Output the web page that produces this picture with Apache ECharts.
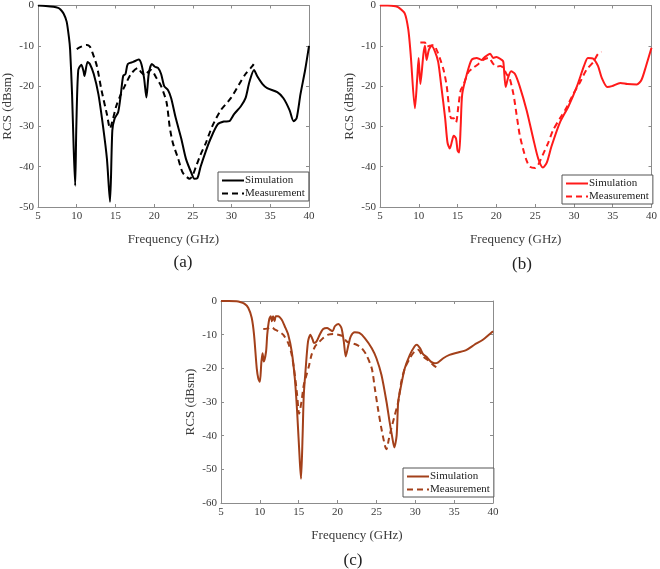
<!DOCTYPE html>
<html>
<head>
<meta charset="utf-8">
<script src="https://cdn.jsdelivr.net/npm/echarts@6/dist/echarts.min.js"></script>
<style>html,body{margin:0;padding:0;background:#fff}#c{width:660px;height:569px}</style>
</head>
<body>
<div id="c"></div>
<script>
// ---- Data (frequency GHz, RCS dBsm) ----
const xTicks = [5, 10, 15, 20, 25, 30, 35, 40];
const panelLabels = ['(a)', '(b)', '(c)'];
const legendNames = ['Simulation', 'Measurement'];

const simA = [[5,0],[6,-0.1],[7,-0.3],[7.6,-0.6],[7.9,-1],[8.3,-2],[8.7,-4],[9.0,-8],[9.15,-11],[9.4,-22],[9.6,-35],[9.8,-44.7],[9.95,-30],[10.2,-16],[10.6,-14.7],[10.9,-16.5],[11.0,-17.5],[11.4,-14],[11.7,-14.5],[12.2,-17],[12.8,-22],[13.4,-30],[13.9,-38],[14.3,-48.7],[14.6,-31],[14.9,-28],[15.35,-26.5],[15.7,-22],[16.0,-17.5],[16.3,-17],[16.6,-14.5],[17.3,-14],[18.0,-13.4],[18.35,-14.5],[18.7,-18],[19.0,-22.8],[19.3,-17],[19.7,-14.5],[20.1,-15.2],[20.5,-15.5],[20.9,-17],[21.3,-20],[21.8,-21],[22.2,-23],[22.8,-28],[23.5,-33],[24.1,-38],[24.8,-41.5],[25.2,-43],[25.6,-42.8],[26.0,-40],[26.7,-36],[27.3,-33],[28.2,-29.5],[29.0,-28.8],[29.7,-28.7],[30.3,-27],[31.2,-25],[31.8,-23],[32.3,-19],[32.9,-16],[33.3,-17.5],[34.0,-19.5],[34.6,-20.5],[35.9,-21.5],[36.7,-23],[37.5,-26],[38.0,-28.7],[38.4,-28],[38.9,-22],[39.5,-16],[40,-10]];
const meaA = [[10.0,-10.8],[10.6,-10.2],[11.3,-9.8],[11.7,-10.2],[12.0,-11.5],[12.6,-15],[13.2,-21],[13.9,-27],[14.3,-30.5],[14.7,-28],[15.1,-25],[15.6,-22.5],[16.2,-20],[17.0,-17],[17.9,-15.5],[18.3,-16.5],[18.8,-17.3],[19.2,-16.5],[19.6,-16],[20.3,-18],[20.9,-20],[21.6,-24],[22.0,-30],[22.4,-34],[23.1,-38],[23.7,-41.5],[24.6,-43],[25.0,-42],[25.4,-40],[26.0,-37],[26.7,-34],[27.5,-30],[28.6,-26],[29.9,-23],[31.0,-19.5],[31.8,-17],[32.7,-15],[33.1,-13.8]];

const simB = [[5,0],[6,0],[7,-0.2],[7.4,-0.5],[8.2,-2],[8.65,-6],[8.95,-12],[9.5,-25.5],[9.8,-18],[9.98,-13],[10.2,-19.5],[10.6,-12],[10.8,-10],[11.0,-13.5],[11.3,-11],[11.65,-10],[12.1,-11.5],[12.5,-14],[12.9,-20],[13.4,-28],[13.7,-34],[14.0,-35.5],[14.3,-33.5],[14.5,-32.3],[14.8,-33],[15.0,-36],[15.2,-36.5],[15.4,-30],[15.6,-22],[16.2,-17],[16.8,-13.5],[17.45,-13],[18.1,-13.5],[18.5,-12.8],[19.2,-12],[19.6,-13],[20.0,-12.8],[20.7,-13.5],[20.9,-14],[21.2,-20.2],[21.5,-18],[21.9,-16.3],[22.4,-17],[23.0,-20],[23.9,-26],[24.75,-33],[25.4,-38],[26.0,-40.2],[26.5,-39],[27.1,-35],[28.2,-29],[29.3,-25],[30.4,-20],[31.3,-15],[31.8,-13],[32.5,-13.2],[33.1,-15],[33.6,-18],[34.3,-20.2],[34.9,-20],[36.0,-19.2],[36.9,-19.5],[38.1,-19.6],[38.7,-18.5],[39.3,-15],[40,-10.5]];
const meaB = [[10.2,-9.2],[10.8,-9.2],[11.0,-10.2],[11.4,-10],[11.9,-9.8],[12.3,-11],[12.7,-13],[13.2,-16],[13.6,-20],[14.0,-27],[14.2,-28],[14.5,-28],[14.8,-29],[15.1,-25],[15.4,-21],[15.7,-20],[16.4,-16.5],[17.0,-15.5],[17.7,-14.5],[18.3,-13.5],[19.0,-13],[19.6,-14.5],[20.0,-15.2],[20.5,-15],[20.9,-15.5],[21.3,-17],[21.7,-18],[22.2,-22],[22.6,-27],[23.0,-32],[23.5,-36],[23.9,-38.5],[24.3,-40],[25.0,-40.3],[25.4,-39.5],[26.0,-37],[26.7,-34],[27.3,-31],[28.2,-28],[29.0,-25.5],[29.9,-22],[30.8,-19],[31.6,-16],[32.5,-14],[33.1,-12],[33.55,-11.5]];

const simC = [[5,0],[6,0],[7,-0.1],[7.45,-0.3],[8.0,-0.8],[8.5,-2],[8.95,-5],[9.25,-10],[9.6,-20],[9.8,-23],[10.0,-24],[10.2,-18],[10.35,-15.5],[10.5,-18],[10.8,-15],[10.95,-10],[11.2,-5.5],[11.4,-4.5],[11.55,-6],[11.7,-4.5],[11.9,-6],[12.05,-4.5],[12.35,-4.5],[12.8,-5.5],[13.2,-7.5],[13.65,-10],[14.1,-15],[14.5,-23],[14.8,-33],[15.15,-48],[15.3,-52.8],[15.5,-40],[15.65,-28],[15.9,-20],[16.2,-12],[16.5,-10],[16.8,-11.5],[16.95,-12.5],[17.3,-12],[17.7,-10],[18.15,-8.3],[18.65,-8],[19.0,-8.5],[19.35,-9],[19.65,-7.5],[20.1,-6.8],[20.5,-8],[20.8,-12],[21.05,-16.5],[21.4,-13],[21.7,-10.5],[22.2,-9.3],[22.8,-9.5],[23.5,-11],[24.4,-14],[25.0,-17],[25.65,-22],[26.3,-30],[26.7,-36],[27.0,-40],[27.3,-43.5],[27.6,-40],[27.8,-30],[28.1,-26],[28.65,-20],[29.3,-16],[29.9,-13.5],[30.2,-13],[30.6,-14],[31.0,-15.8],[31.4,-16.5],[32.0,-18],[32.5,-18.5],[32.9,-18.3],[33.6,-17],[34.4,-16],[35.5,-15.3],[36.6,-14.5],[37.6,-13],[38.7,-11.5],[40,-9]];
const meaC = [[10.44,-8.3],[10.9,-8.2],[11.5,-7.8],[11.95,-8.5],[12.4,-9],[13.0,-10],[13.65,-12.5],[14.1,-16],[14.5,-22],[14.8,-28],[15.05,-33.5],[15.35,-30],[15.65,-25],[16.0,-22],[16.35,-19],[16.65,-16],[17.1,-13.5],[17.5,-12.5],[18.15,-11],[18.8,-10],[19.45,-9.8],[20.1,-10],[20.7,-10.5],[21.15,-12],[21.8,-12.5],[22.45,-13],[23.1,-14],[23.7,-16],[24.4,-20],[24.8,-26],[25.2,-32],[25.65,-38],[26.1,-43],[26.3,-44],[26.6,-41],[26.9,-38],[27.35,-34],[27.8,-30],[28.2,-24],[28.65,-20],[29.3,-17],[29.9,-15],[30.35,-14.5],[31.0,-16.5],[31.6,-17.5],[32.3,-19],[32.7,-19.7]];

// ---- Layout / styles ----
const panels = [
  {sim: simA, mea: meaA, color: '#000000', grid: {left: 36, top: 5, width: 273, height: 202}, ymin: -50,
   legend: {left: 218, top: 172}, cap: {x: 178, y: 258}},
  {sim: simB, mea: meaB, color: '#ff1a1a', grid: {left: 380, top: 5, width: 272, height: 202}, ymin: -50,
   legend: {left: 562, top: 175}, cap: {x: 517, y: 260}},
  {sim: simC, mea: meaC, color: '#a3401a', grid: {left: 221, top: 301, width: 272, height: 202}, ymin: -60,
   legend: {left: 403, top: 468}, cap: {x: 348, y: 556}}
];

const FONT = '"Liberation Serif", "Times New Roman", serif';
const AX = '#8c8c8c';
const LBL = '#3a3a3a';

const grids = [], xAxes = [], yAxes = [], series = [], legends = [], titles = [];
panels.forEach((p, i) => {
  grids.push(Object.assign({containLabel: false}, p.grid));
  const xb = {
    type: 'value', gridIndex: i, min: xTicks[0], max: xTicks[xTicks.length - 1], interval: 5,
    position: 'bottom',
    axisLine: {show: true, onZero: false, lineStyle: {color: AX, width: 1}},
    axisTick: {show: true, inside: true, length: 3, lineStyle: {color: AX}},
    axisLabel: {color: LBL, fontFamily: FONT, fontSize: 11, margin: 4},
    splitLine: {show: false},
    name: 'Frequency (GHz)', nameLocation: 'middle', nameGap: 26,
    nameTextStyle: {color: LBL, fontFamily: FONT, fontSize: 13}
  };
  const xt = {
    type: 'value', gridIndex: i, min: xTicks[0], max: xTicks[xTicks.length - 1], interval: 5,
    position: 'top',
    axisLine: {show: true, onZero: false, lineStyle: {color: AX, width: 1}},
    axisTick: {show: true, inside: true, length: 3, lineStyle: {color: AX}},
    axisLabel: {show: false}, splitLine: {show: false}
  };
  const yl = {
    type: 'value', gridIndex: i, min: p.ymin, max: 0, interval: 10, position: 'left',
    axisLine: {show: true, onZero: false, lineStyle: {color: AX, width: 1}},
    axisTick: {show: true, inside: true, length: 3, lineStyle: {color: AX}},
    axisLabel: {color: LBL, fontFamily: FONT, fontSize: 11, margin: 4},
    splitLine: {show: false},
    name: 'RCS (dBsm)', nameLocation: 'middle', nameGap: 24,
    nameTextStyle: {color: LBL, fontFamily: FONT, fontSize: 13}
  };
  const yr = {
    type: 'value', gridIndex: i, min: p.ymin, max: 0, interval: 10, position: 'right',
    axisLine: {show: true, onZero: false, lineStyle: {color: AX, width: 1}},
    axisTick: {show: true, inside: true, length: 3, lineStyle: {color: AX}},
    axisLabel: {show: false}, splitLine: {show: false}
  };
  xAxes.push(xb, xt);
  yAxes.push(yl, yr);
  const sn = legendNames[0] + ' ' + panelLabels[i];
  const mn = legendNames[1] + ' ' + panelLabels[i];
  series.push({
    name: sn, type: 'line', xAxisIndex: 2 * i, yAxisIndex: 2 * i, data: p.sim,
    showSymbol: false, symbol: 'none', smooth: 0.25, color: p.color,
    lineStyle: {color: p.color, width: 2}
  });
  series.push({
    name: mn, type: 'line', xAxisIndex: 2 * i, yAxisIndex: 2 * i, data: p.mea,
    showSymbol: false, symbol: 'none', smooth: 0.25, color: p.color,
    lineStyle: {color: p.color, width: 2, type: [6, 4]}
  });
  legends.push({
    data: [sn, mn], left: p.legend.left, top: p.legend.top, orient: 'vertical',
    itemWidth: 22, itemHeight: 8, itemGap: 2, padding: [3, 4, 2, 3],
    borderColor: '#555', borderWidth: 1, backgroundColor: '#fff',
    itemStyle: {color: 'transparent', borderColor: 'transparent', borderWidth: 0, opacity: 0},
    formatter: n => n.split(' ')[0],
    textStyle: {color: '#222', fontFamily: FONT, fontSize: 11, padding: [0, 0, 0, -4]},
    selectedMode: false
  });
  titles.push({
    text: panelLabels[i], left: p.cap.x, top: p.cap.y, textAlign: 'center', textVerticalAlign: 'middle',
    textStyle: {color: '#222', fontFamily: FONT, fontSize: 17, fontWeight: 'normal'}
  });
});

const chart = echarts.init(document.getElementById('c'), null, {renderer: 'canvas'});
chart.setOption({
  animation: false,
  backgroundColor: '#fff',
  title: titles,
  grid: grids,
  xAxis: xAxes,
  yAxis: yAxes,
  legend: legends,
  series: series
});
</script>
</body>
</html>
